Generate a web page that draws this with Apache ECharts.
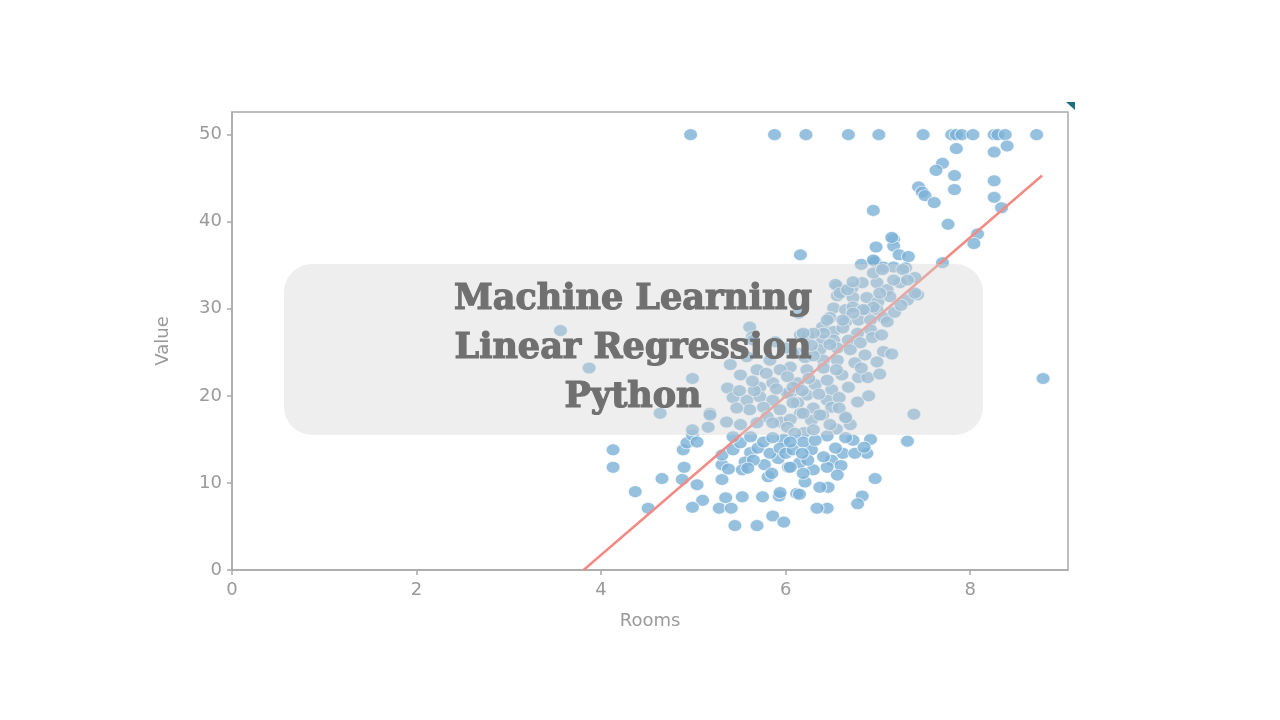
<!DOCTYPE html>
<html><head><meta charset="utf-8">
<script src="https://cdn.jsdelivr.net/npm/echarts@6/dist/echarts.min.js"></script>
<style>html,body{margin:0;padding:0;background:#fff}#c{width:1280px;height:720px}</style>
</head><body><div id="c"></div>
<script>
// ---- data: [rooms, value] ----
const pointsTop = [[4.97,50],[5.88,50],[6.22,50],[6.68,50],[7.01,50],[7.49,50],[7.80,50],[7.85,50],[7.91,50],[8.03,50],[8.26,50],[8.30,50],[8.38,50],[8.72,50]];
const pointsUpper = [[7.85,48.4],[8.26,48.0],[8.40,48.7],[7.70,46.7],[7.63,45.9],[7.83,45.3],[8.26,44.7],[7.83,43.7],[7.44,44.0],[7.48,43.4],[7.51,43.0],[7.61,42.2],[8.26,42.8],[8.34,41.6],[6.95,41.3],[7.76,39.7],[8.08,38.6],[8.04,37.5],[6.16,36.2],[6.98,37.1],[7.17,38.0],[7.17,37.2],[7.23,36.2],[7.33,36.0],[6.96,35.5],[6.82,35.1],[7.70,35.3],[7.15,38.2]];
const pointsHigh = [[6.97,35.4],[7.06,34.8],[7.17,34.8],[7.30,34.7],[6.56,32.6],[6.72,32.4],[6.83,33.0],[6.99,33.0],[7.10,32.2],[7.24,33.0],[7.40,33.6],[7.43,31.6],[7.32,31.0],[6.56,31.5],[6.73,31.3],[6.88,31.3],[7.00,30.8],[7.13,31.4],[6.52,30.1],[6.65,29.9],[6.73,30.2],[6.88,29.9],[6.99,29.9],[6.48,29.0],[6.65,28.5],[6.79,28.7],[6.92,28.7],[7.06,29.0],[7.10,28.5],[6.40,27.9],[6.52,27.4],[6.62,27.8],[6.78,27.2],[6.92,27.6],[6.16,27.0],[6.24,27.0],[6.40,26.4],[6.52,26.4],[6.68,26.4],[6.81,26.1],[6.94,26.7],[6.37,25.3],[6.56,25.5],[6.70,25.3],[6.86,24.7],[7.06,25.1],[6.13,24.9],[6.21,24.4],[6.41,24.1],[6.56,24.1],[6.75,23.8],[6.99,23.9],[6.05,23.3],[6.23,23.0],[6.41,23.2],[6.61,22.4],[6.79,22.1],[6.89,22.1],[6.13,21.5],[6.32,21.3],[6.50,20.7],[6.68,21.0],[6.05,20.3],[6.23,20.1],[6.45,19.5],[6.13,19.2],[6.30,18.6],[6.50,18.7],[6.16,18.0],[6.40,17.8],[6.65,17.6],[7.39,17.9],[8.79,22.0]];
const pointsMid = [[6.54,32.8],[6.59,31.8],[6.67,32.2],[6.73,33.1],[6.95,35.6],[6.95,34.1],[7.05,34.5],[7.27,34.5],[7.32,33.3],[7.40,31.8],[7.17,33.3],[7.02,31.8],[6.95,30.2],[6.84,29.9],[6.73,29.5],[6.62,28.7],[6.45,28.7],[6.41,27.2],[6.30,27.2],[6.19,27.2],[5.61,27.9],[5.64,26.8],[6.14,29.5],
  [3.56,27.5],[3.87,23.2],[4.99,22.0],[4.64,18.0],[5.18,18.0],[5.37,20.9],[5.43,19.8],[5.65,26.4],[5.40,23.6],[5.51,22.4],[5.58,24.5],[5.69,23.0],[5.83,24.1],[5.94,23.0],[6.08,24.9],[5.72,21.0],[5.86,21.5],[6.02,22.2],[5.58,19.5],[5.72,19.9],[5.86,19.5],[6.02,20.3],[6.08,21.0],[5.61,18.4],[5.76,18.7],[5.94,18.4],[6.08,19.2]];
const pointsDense = [[5.80,17.6],[5.95,17.0],[6.05,17.3],[6.28,17.2],[6.55,16.2],[5.66,20.6],[5.90,20.8],[6.18,20.6],[6.36,20.2],[6.58,19.8],[6.25,22.0],[6.45,21.8],[6.55,23.0],[6.30,24.6],[6.48,25.9],[6.28,25.8],[6.00,25.5],[5.89,26.2],[5.79,22.6],[5.64,21.7],[5.50,20.6],[5.47,18.6],[5.36,17.0],[5.62,13.5],[5.77,12.1],[5.92,12.8],[6.15,12.3],[6.30,11.5],[6.50,12.6],[6.60,12.0],[6.88,13.4],[6.92,15.0],[6.28,13.8],[5.98,15.0],[6.20,15.8],[6.45,15.4],[6.58,18.6],[6.78,19.3],[6.90,20.0],[6.82,23.2],[7.02,22.5],[7.15,24.8],[7.04,27.0],[7.18,29.6],[7.25,30.4]];
const pointsLow = [[4.13,13.8],[4.13,11.8],[4.37,9.0],[4.51,7.1],[4.66,10.5],[4.89,13.8],[4.90,11.8],[4.88,10.4],[5.04,9.8],[5.10,8.0],[4.99,7.2],[5.31,10.4],[5.35,8.3],[5.28,7.1],[5.41,7.1],[5.53,8.4],[5.75,8.4],[5.45,5.1],[5.69,5.1],[5.86,6.2],[5.98,5.5],[5.93,8.5],[5.94,8.9],[6.12,8.8],[5.81,10.7],[5.85,11.1],[6.03,11.8],[5.31,12.1],[5.38,11.6],[5.31,13.2],[5.43,13.8],[5.56,12.4],[5.65,12.6],[5.53,11.5],[5.59,11.7],[5.70,14.0],[5.83,13.4],[5.94,14.0],[6.00,13.4],[6.08,13.8],[5.51,14.6],[5.62,15.3],[5.76,14.7],[5.86,15.2],[4.93,14.6],[4.99,15.5],[5.04,14.7],[5.16,16.4],[4.99,16.1],[5.18,17.8],[5.43,15.3],[5.51,16.7],[5.69,16.9],[5.86,16.9],[6.02,16.4],[6.10,15.7],
  [7.32,14.8],[6.97,10.5],[6.83,8.5],[6.78,7.6],[6.45,7.1],[6.34,7.1],[6.46,9.5],[6.37,9.5],[6.15,8.7],[6.56,10.9],[6.21,10.1],[6.19,11.1],[6.45,11.8],[6.24,12.6],[6.05,11.8],[6.41,13.0],[6.62,13.4],[6.75,13.4],[6.85,14.1],[6.73,14.9],[6.65,15.2],[6.54,14.0],[6.19,14.7],[6.18,13.4],[6.32,14.9],[6.05,14.7],[6.70,16.7],[6.65,17.5],[6.48,16.7],[6.30,16.1],[6.37,17.8],[6.19,18.0]];
const fitRooms = [3.81, 8.78];
const fitValue = [0, 45.3];
const xTicks = [0, 2, 4, 6, 8];
const yTicks = [0, 10, 20, 30, 40, 50];
const overlayLines = ['Machine Learning', 'Linear Regression', 'Python'];

const scatterData = [].concat(pointsTop, pointsUpper, pointsHigh, pointsMid, pointsDense, pointsLow);
const fitData = fitRooms.map((r, i) => [r, fitValue[i]]);

const axisGrey = '#a9a9a9';
const labelGrey = '#9a9a9a';
const chart = echarts.init(document.getElementById('c'));
const titleTexts = overlayLines.map((t, i) => ({
  type: 'text', z: 102,
  x: 633, y: 300 + i * 49,
  style: { text: t, x: 0, y: 0, fill: '#707070', stroke: '#707070', lineWidth: 1.2,
           font: 'bold 35px "DejaVu Serif", serif', textAlign: 'center', textVerticalAlign: 'middle' }
}));
chart.setOption({
  animation: false,
  backgroundColor: '#ffffff',
  grid: { left: 232, top: 112, right: 212, bottom: 150, show: true, borderColor: axisGrey, borderWidth: 1.5 },
  xAxis: {
    type: 'value', min: 0, max: 9.06,
    name: 'Rooms', nameLocation: 'middle', nameGap: 42,
    nameTextStyle: { color: labelGrey, fontSize: 18, fontFamily: 'DejaVu Sans' },
    axisLine: { show: true, onZero: false, lineStyle: { color: axisGrey, width: 1.5 } },
    axisTick: { show: true, length: 5, customValues: xTicks, lineStyle: { color: axisGrey, width: 1.5 } },
    axisLabel: { color: labelGrey, fontSize: 18, fontFamily: 'DejaVu Sans', margin: 11, customValues: xTicks },
    splitLine: { show: false }
  },
  yAxis: {
    type: 'value', min: 0, max: 52.6,
    name: 'Value', nameLocation: 'middle', nameGap: 60, nameRotate: 90,
    nameTextStyle: { color: labelGrey, fontSize: 18, fontFamily: 'DejaVu Sans' },
    axisLine: { show: true, onZero: false, lineStyle: { color: axisGrey, width: 1.5 } },
    axisTick: { show: true, length: 5, customValues: yTicks, lineStyle: { color: axisGrey, width: 1.5 } },
    axisLabel: { color: labelGrey, fontSize: 18, fontFamily: 'DejaVu Sans', margin: 10, customValues: yTicks },
    splitLine: { show: false }
  },
  series: [
    { type: 'scatter', data: scatterData, symbol: 'circle', symbolSize: [14, 12],
      itemStyle: { color: '#7bb0d6', borderColor: 'rgba(255,255,255,0.85)', borderWidth: 1 }, z: 2 },
    { type: 'line', data: fitData, showSymbol: false, symbol: 'none',
      lineStyle: { color: '#f28b84', width: 2.5 }, z: 3 }
  ],
  graphic: [
    { type: 'rect', z: 100, shape: { x: 284, y: 264, width: 699, height: 171, r: 28 },
      style: { fill: 'rgba(212,212,212,0.4)' } },
    { type: 'polygon', z: 100, shape: { points: [[1066, 102], [1075, 102], [1075, 110]] },
      style: { fill: '#1d6e80' } }
  ].concat(titleTexts)
});
</script></body></html>
